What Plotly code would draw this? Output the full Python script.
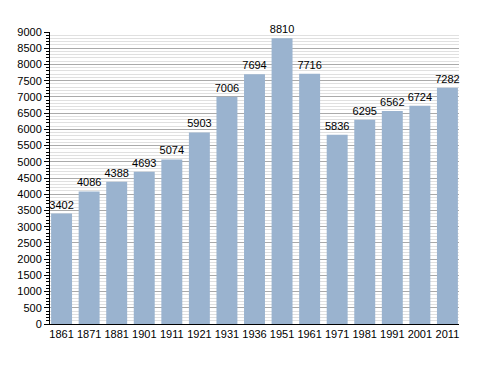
import plotly.graph_objects as go

years = ["1861", "1871", "1881", "1901", "1911", "1921", "1931", "1936",
         "1951", "1961", "1971", "1981", "1991", "2001", "2011"]
population = [3402, 4086, 4388, 4693, 5074, 5903, 7006, 7694,
              8810, 7716, 5836, 6295, 6562, 6724, 7282]

gap = 0.24

fig = go.Figure(go.Bar(
    x=years, y=population,
    marker=dict(color="#9ab3cf", line=dict(width=0)),
    text=[str(v) for v in population], textposition="outside",
    constraintext="none",
    textfont=dict(family="Liberation Sans, Arial", size=11, color="black"),
    cliponaxis=False,
))

fig.update_layout(
    width=488, height=373,
    margin=dict(l=42, r=37, t=24, b=57, autoexpand=False),
    paper_bgcolor="white", plot_bgcolor="white",
    bargap=gap,
    showlegend=False,
    font=dict(family="Liberation Sans, Arial", size=11, color="black"),
)
fig.update_xaxes(
    type="category", showline=True, linecolor="black", linewidth=1,
    range=[-0.5 + gap / 2 - 0.04, len(years) - 0.5 - gap / 2 + 0.04],
    ticks="", tickfont=dict(size=11), showgrid=False, automargin=False,
)
fig.update_yaxes(
    range=[0, 9000], dtick=500, showline=True, linecolor="black", linewidth=1,
    ticks="outside", ticklen=5, tickcolor="black",
    showgrid=True, gridcolor="#aaaaaa", gridwidth=1,
    minor=dict(dtick=100, showgrid=True, gridcolor="#e0e0e0", ticks="outside",
               ticklen=3, tickcolor="black"),
    tickfont=dict(size=11), zeroline=False, automargin=False,
)

fig.write_html("out.html")
